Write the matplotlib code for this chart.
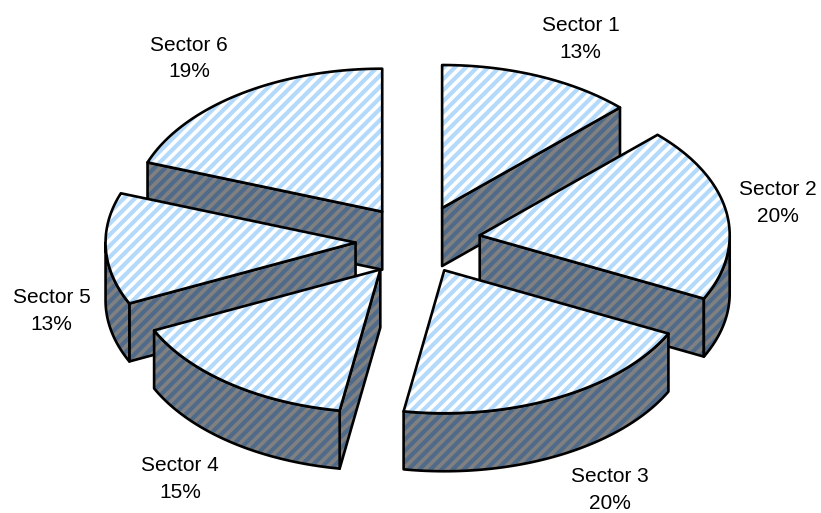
import numpy as np
import matplotlib
matplotlib.use("Agg")
import matplotlib.pyplot as plt
from matplotlib.patches import Polygon

plt.rcParams['font.family'] = ['Liberation Sans', 'DejaVu Sans']
plt.rcParams['hatch.linewidth'] = 3

sectors = ['Sector 1', 'Sector 2', 'Sector 3', 'Sector 4', 'Sector 5', 'Sector 6']
shares = [12.6, 19.7, 20.3, 15.4, 12.6, 19.4]

# pixel layout of the tilted pie
cx, cy = 418, 241
rx, ry = 250, 143
depth = 58
explode = [0.25, 0.25, 0.23, 0.25, 0.25, 0.25]
label_pos = [(580.5, 39), (778, 203), (610, 490), (180, 479), (51.5, 311), (189, 58.5)]
draw_order = [0, 5, 1, 4, 2, 3]

top_bg, top_hatch = '#ffffff', '#b3d9fb'
side_bg, side_hatch = '#808080', '#506a8a'

fig = plt.figure(figsize=(8.21, 5.13), dpi=100)
ax = fig.add_axes([0, 0, 1, 1])
ax.set_xlim(0, 821)
ax.set_ylim(513, 0)
ax.axis('off')


def pt(c, t):
    # t in degrees, clockwise from 12 o'clock
    a = np.radians(t)
    return np.column_stack((c[0] + rx * np.sin(a), c[1] - ry * np.cos(a)))


def face(p, bg, hatch, z):
    ax.add_patch(Polygon(p, closed=True, facecolor=bg, edgecolor=hatch, hatch='///', lw=0, zorder=z))
    ax.add_patch(Polygon(p, closed=True, fill=False, edgecolor='black', lw=1.9, joinstyle='round', zorder=z + 0.5))


edges = np.cumsum([0] + shares) / sum(shares) * 360
z = 1
for i in draw_order:
    t0, t1 = edges[i], edges[i + 1]
    mid = np.radians((t0 + t1) / 2)
    c = np.array([cx + explode[i] * rx * np.sin(mid), cy - explode[i] * ry * np.cos(mid)])
    down = np.array([0, depth])

    # cut faces that look at the viewer
    if np.sin(np.radians(t0)) < -1e-6:
        e = pt(c, np.array([t0]))[0]
        face([c, e, e + down, c + down], side_bg, side_hatch, z)
        z += 1
    if np.sin(np.radians(t1)) > 1e-6:
        e = pt(c, np.array([t1]))[0]
        face([c, e, e + down, c + down], side_bg, side_hatch, z)
        z += 1

    # front rim
    a0, a1 = max(t0, 90), min(t1, 270)
    if a1 > a0:
        arc = pt(c, np.linspace(a0, a1, 80))
        face(np.vstack((arc, (arc + down)[::-1])), side_bg, side_hatch, z)
        z += 1

    # top
    arc = pt(c, np.linspace(t0, t1, 120))
    face(np.vstack(([c], arc)), top_bg, top_hatch, z)
    z += 1

for name, share, pos in zip(sectors, shares, label_pos):
    ax.text(pos[0], pos[1], '%s\n%.0f%%' % (name, share), ha='center', va='center',
            fontsize=15, linespacing=1.5, color='black', zorder=z)

fig.savefig('out.png', dpi=100)
